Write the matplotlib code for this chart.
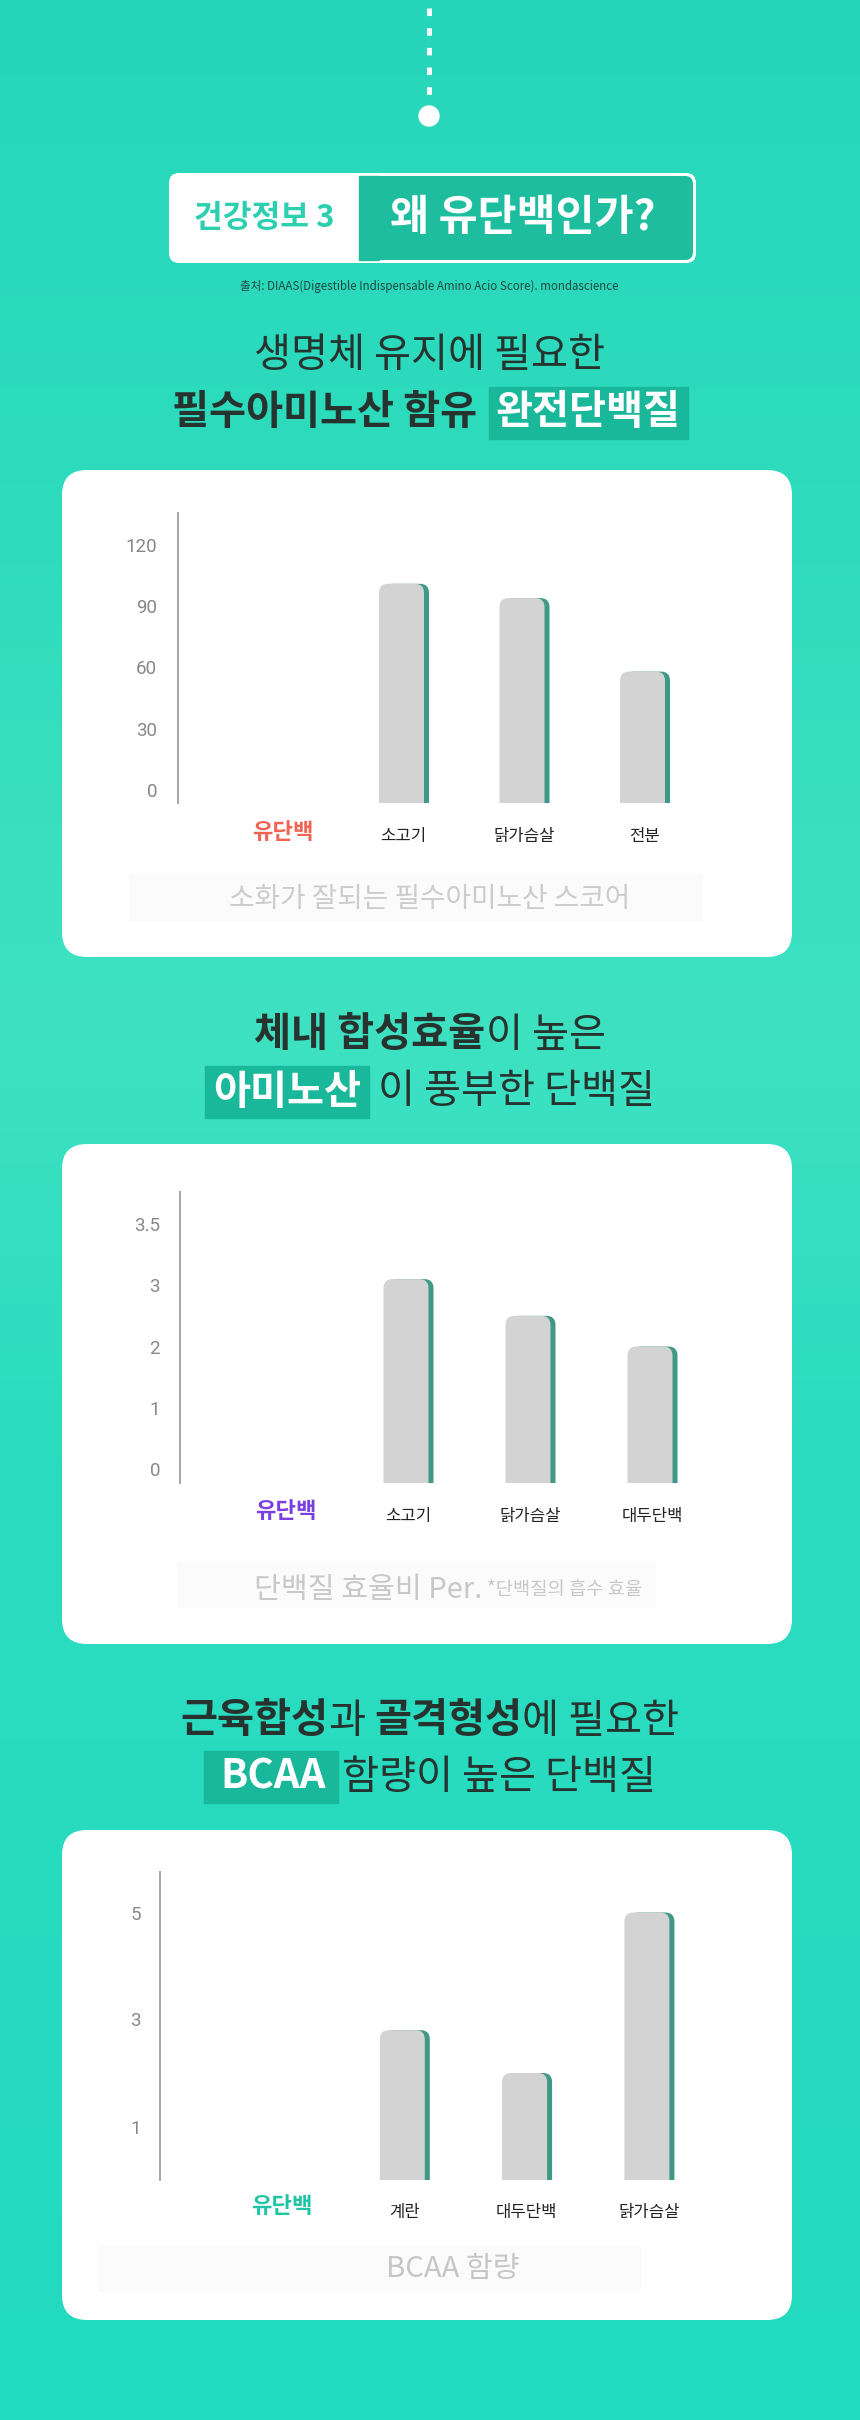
import matplotlib
matplotlib.use('Agg')
import matplotlib.pyplot as plt
import numpy as np
from matplotlib.patches import FancyBboxPatch, Rectangle, Circle
from matplotlib.colors import LinearSegmentedColormap

plt.rcParams['font.family'] = ['Noto Sans CJK KR', 'DejaVu Sans']

W, H = 860, 2420

# chart 1: DIAAS
diaas_cats = ['유단백', '소고기', '닭가슴살', '전분']
diaas_vals = [np.nan, 101, 94, 58]
diaas_ticks = [0, 30, 60, 90, 120]
diaas_tick_labels = ['0', '30', '60', '90', '120']

# chart 2: PER
per_cats = ['유단백', '소고기', '닭가슴살', '대두단백']
per_vals = [np.nan, 3.1, 2.5, 2.0]
per_ticks = [0, 1, 2, 3, 4]
per_tick_labels = ['0', '1', '2', '3', '3.5']

# chart 3: BCAA
bcaa_cats = ['유단백', '계란', '대두단백', '닭가슴살']
bcaa_vals = [np.nan, 2.8, 2.0, 5.0]
bcaa_ticks = [1, 3, 5]
bcaa_tick_labels = ['1', '3', '5']

DARK = '#26332f'
BOX = '#19b89b'
TS = 29  # title size

fig = plt.figure(figsize=(W / 100, H / 100), dpi=100)
bg = fig.add_axes([0, 0, 1, 1])
cmap = LinearSegmentedColormap.from_list('bg', [(0, '#27d6ba'), (0.2, '#2edbbd'), (0.42, '#3ee2c3'),
                                               (0.6, '#2cdcbf'), (1, '#22dabf')])
grad = np.linspace(0, 1, 500).reshape(-1, 1)
bg.imshow(grad, cmap=cmap, aspect='auto', extent=(0, W, H, 0), origin='upper', zorder=0)
bg.set_xlim(0, W)
bg.set_ylim(H, 0)
bg.axis('off')

renderer = fig.canvas.get_renderer()


def part(t, size=TS, weight='normal', color=DARK, box=None, gap=0):
    return dict(t=t, size=size, weight=weight, color=color, box=box, gap=gap)


def text_line(y, parts, cx=430, box_h=52):
    objs = []
    total = 0
    for p in parts:
        t = bg.text(0, y, p['t'], fontsize=p['size'], fontweight=p['weight'], color=p['color'],
                    ha='left', va='center', zorder=5)
        w = t.get_window_extent(renderer).width
        padl, padr = (p['box'][0], p['box'][1]) if p['box'] else (0, 0)
        objs.append((t, w, padl, padr, p))
        total += p['gap'] + padl + w + padr
    x = cx - total / 2
    for t, w, padl, padr, p in objs:
        x += p['gap']
        if p['box']:
            bg.add_patch(Rectangle((x, y - box_h / 2), padl + w + padr, box_h, color=BOX, zorder=4))
        t.set_x(x + padl)
        x += padl + w + padr


def card(top, bottom):
    bg.add_patch(FancyBboxPatch((62, top), 730, bottom - top, boxstyle='round,pad=0,rounding_size=25',
                                fc='white', ec='none', zorder=2))


def strip(x0, x1, y0, y1):
    bg.add_patch(Rectangle((x0, y0), x1 - x0, y1 - y0, color='#fbfbfb', zorder=3))


# top connector
bg.plot([429, 429], [8, 96], color='white', lw=3.5, linestyle=(0, (1.55, 2.5)), zorder=3)
bg.add_patch(Circle((429, 116), 10, color='white', zorder=3))

# header badge
bg.add_patch(FancyBboxPatch((169, 173), 527, 90, boxstyle='round,pad=0,rounding_size=10',
                            fc='white', ec='none', zorder=3))
bg.add_patch(FancyBboxPatch((359, 176), 334, 84, boxstyle='round,pad=0,rounding_size=8',
                            fc='#1dbd9e', ec='none', zorder=4))
bg.add_patch(Rectangle((359, 176), 20, 84, color='#1dbd9e', zorder=4))
bg.text(264, 218, '건강정보 3', fontsize=22.5, fontweight='bold', color='#2ccfae', ha='center', va='center', zorder=5)
bg.text(523, 218, '왜 유단백인가?', fontsize=30.5, fontweight='bold', color='white', ha='center', va='center', zorder=5)
bg.text(429, 286, '출처: DIAAS(Digestible Indispensable Amino Acio Score). mondascience',
        fontsize=8.3, color='#1f4a42', ha='center', va='center', zorder=5)

# section titles
text_line(355, [part('생명체 유지에 필요한')])
text_line(413, [part('필수아미노산 함유', weight='bold'),
                part('완전단백질', weight='bold', color='white', box=(7, 7), gap=11)])
text_line(1035, [part('체내 합성효율', weight='bold'), part('이 높은')])
text_line(1092, [part('아미노산', weight='bold', color='white', box=(8, 8)), part('이 풍부한 단백질', gap=9)])
text_line(1721, [part('근육합성', weight='bold'), part('과'), part('골격형성', weight='bold', gap=9),
                 part('에 필요한')])
text_line(1777, [part('BCAA', weight='bold', color='white', box=(17, 12)), part('함량이 높은 단백질', gap=4)])

card(470, 957)
card(1144, 1644)
card(1830, 2320)

strip(129, 702, 875, 920)
text_line(899, [part('소화가 잘되는 필수아미노산 스코어', size=20, color='#cccccc')])
strip(177, 655, 1563, 1607)
text_line(1590, [part('단백질 효율비 Per.', size=21, color='#c8c8c8'),
                 part('*단백질의 흡수 효율', size=13.5, color='#c8c8c8', gap=5)], cx=448)
strip(98, 640, 2246, 2291)
text_line(2269, [part('BCAA 함량', size=21, color='#c6c6c6')], cx=453)


def bar_chart(box, x0, dx, y0, sy, pad, cats, vals, ticks, tick_labels, first_color, offs):
    left, right, top, bottom = box
    ax = fig.add_axes([left / W, 1 - bottom / H, (right - left) / W, (bottom - top) / H])
    ax.set_xlim((left - x0) / dx, (right - x0) / dx)
    ax.set_ylim((y0 - bottom) / sy, (y0 - top) / sy)
    ax.patch.set_alpha(0)
    for s in ['top', 'right', 'bottom']:
        ax.spines[s].set_visible(False)
    ax.spines['left'].set_color('#a6a6a6')
    ax.spines['left'].set_linewidth(1.4)
    ax.set_xticks([])
    ax.set_yticks(ticks, tick_labels)
    ax.tick_params(axis='y', length=0, pad=pad / 1.389, labelsize=13.5, labelcolor='#888888')
    for lab in ax.get_yticklabels():
        lab.set_fontfamily(['Roboto', 'DejaVu Sans'])
    floor = ax.get_ylim()[0]
    r = 9
    for i, v in enumerate(vals):
        if np.isnan(v):
            continue
        for off, col in [(3, '#3f9986'), (-2, '#d3d3d3')]:
            w = 45 / dx
            ax.add_patch(FancyBboxPatch((i + off / dx - w / 2, floor - r / sy), w, v - floor + r / sy,
                                        boxstyle=f'round,pad=0,rounding_size={r / dx}',
                                        mutation_aspect=dx / sy, fc=col, ec='none'))
    for i, c in enumerate(cats):
        first = i == 0
        ax.annotate(c, xy=(i, 0), xycoords=('data', 'axes fraction'),
                    xytext=(0, -(offs[0] if first else offs[1]) / 1.389), textcoords='offset points',
                    ha='center', va='center', fontsize=16 if first else 12,
                    fontweight='bold' if first else 'normal',
                    color=first_color if first else '#222222', annotation_clip=False)
    return ax


bar_chart((178, 720, 513, 803), 283, 120.5, 790, 245 / 120, 21, diaas_cats, diaas_vals,
          diaas_ticks, diaas_tick_labels, '#f26352', (30, 34))
bar_chart((180, 720, 1192, 1483), 286, 122, 1469, 61.25, 20, per_cats, per_vals,
          per_ticks, per_tick_labels, '#7b3fe0', (29, 34))
bar_chart((160, 720, 1872, 2180), 282, 122.3, 2180, 53.5, 19, bcaa_cats, bcaa_vals,
          bcaa_ticks, bcaa_tick_labels, '#1fc4a4', (27, 33))

fig.savefig('out.png', dpi=100)
